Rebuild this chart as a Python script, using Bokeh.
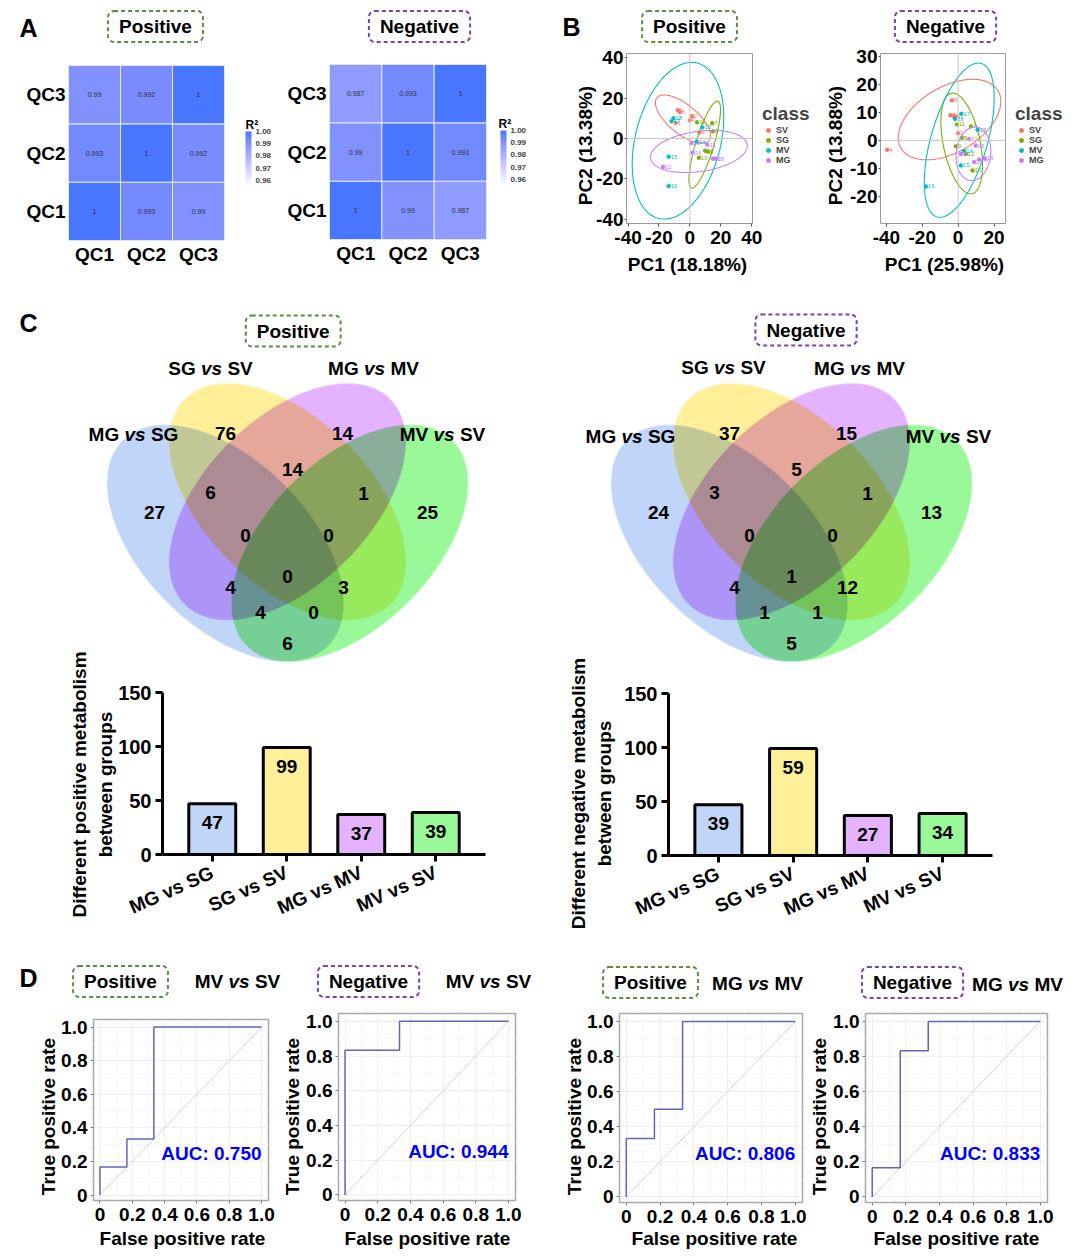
import numpy as np
from bokeh.plotting import figure
from bokeh.models import (Range1d, FactorRange, LinearColorMapper, ColorBar, FixedTicker,
                          PrintfTickFormatter, Label, Legend, LegendItem, Span, ColumnDataSource)
from bokeh.layouts import row, column
from bokeh.embed import file_html
from bokeh.resources import INLINE
from bokeh.core.properties import value

FONT = "Liberation Sans"

# ============================ DATA ============================
qc_names = ["QC1", "QC2", "QC3"]
r2_pos_qc1 = [1.0, 0.993, 0.99]
r2_pos_qc2 = [0.993, 1.0, 0.992]
r2_pos_qc3 = [0.99, 0.992, 1.0]
r2_neg_qc1 = [1.0, 0.99, 0.987]
r2_neg_qc2 = [0.99, 1.0, 0.993]
r2_neg_qc3 = [0.987, 0.993, 1.0]
r2_ticks = [0.96, 0.97, 0.98, 0.99, 1.00]

pca_classes = ["SV", "SG", "MV", "MG"]
pca_sample_id = [1, 2, 3, 4, 5, 6, 7, 8, 9, 10, 11, 12,
                 13, 14, 15, 16, 17, 18, 19, 20, 21, 22, 23, 24]
pca_sample_class = ["SV", "SV", "SV", "SV", "SV", "SV",
                    "SG", "SG", "SG", "SG", "SG", "SG",
                    "MV", "MV", "MV", "MV", "MV", "MV",
                    "MG", "MG", "MG", "MG", "MG", "MG"]
pos_pc1 = [-9.2, 1.2, 6.2, -0.1, -6.5, -7.8, 14.4, 11.6, 14.8, 5.8, 4.7, 9.8,
           8.0, 4.4, -13.7, -13.7, -11.9, -10.6, 16.6, 14.8, 11.2, -17.4, 0.8, 1.7]
pos_pc2 = [7.7, 11, 3, 9, 13, 14, 7.5, -6.5, 3.5, -9.5, 8, -6,
           5.5, -1.5, -9, -23.5, 8.5, 10, -10, -10, -3, -14, -2.3, -7]
neg_pc1 = [0, -4.3, -1.6, -39.6, -3.5, -2.7, 7.1, 2, -1.3, 8, -0.7, 4.3,
           10.8, 3.3, 1.5, -18, 1.8, -1.8, 14.9, 1.5, 6.1, 8.9, 9.8, 11.7]
neg_pc2 = [2.6, 9, 8.5, -3.3, 14.3, 8.7, 5, 1, -2.1, -10.7, 5.7, -4.8,
           3.8, -3.8, -8.9, -16.4, 9.5, 7.7, -6.4, -4.8, 0.4, -7.7, -1.8, -6.8]
# confidence ellipses per class (SV, SG, MV, MG): centre, half-width, half-height, correlation
pos_ell_cx = [-4.5, 9.6, -7.7, 5.8]
pos_ell_cy = [9.6, -3.0, -1.1, -6.4]
pos_ell_halfw = [17.8, 10.2, 29.6, 31.3]
pos_ell_halfh = [11.9, 21.5, 38.7, 10.4]
pos_ell_r = [-0.68, 0.80, 0.30, 0.27]
neg_ell_cx = [-4.8, 2.0, 0.6, 8.5]
neg_ell_cy = [7.45, -1.05, 0.1, -4.75]
neg_ell_halfw = [28.6, 11.6, 19.5, 9.7]
neg_ell_halfh = [14.35, 17.95, 27.5, 9.55]
neg_ell_r = [0.45, -0.43, 0.55, 0.10]
pos_pc_ticks = [-40, -20, 0, 20, 40]
pos_pc_tick_labels = ["-40", "-20", "0", "20", "40"]
neg_pc1_ticks = [-40, -20, 0, 20]
neg_pc1_tick_labels = ["-40", "-20", "0", "20"]
neg_pc2_ticks = [-20, -10, 0, 10, 20, 30]
neg_pc2_tick_labels = ["-20", "-10", "0", "10", "20", "30"]

venn_sets = ["MG vs SG", "SG vs SV", "MG vs MV", "MV vs SV"]
venn_regions = ["A", "B", "C", "D", "AB", "BC", "CD", "ABC", "BCD", "ABCD",
                "AC", "BD", "ACD", "ABD", "AD"]
venn_pos_counts = [27, 76, 14, 25, 6, 14, 1, 0, 0, 0, 4, 3, 4, 0, 6]
venn_neg_counts = [24, 37, 15, 13, 3, 5, 1, 0, 0, 1, 4, 12, 1, 1, 5]

comparisons = ["MG vs SG", "SG vs SV", "MG vs MV", "MV vs SV"]
diff_positive = [47, 99, 37, 39]
diff_negative = [39, 59, 27, 34]
# bar heights as drawn in the negative-mode chart
diff_negative_drawn = [47, 99, 37, 39]
bar_ticks = [0, 50, 100, 150]

roc_pos_mvsv_fpr = [0, 0, 0.1667, 0.1667, 0.3333, 0.3333, 1]
roc_pos_mvsv_tpr = [0, 0.1667, 0.1667, 0.3333, 0.3333, 1, 1]
roc_neg_mvsv_fpr = [0, 0, 0.3333, 0.3333, 1]
roc_neg_mvsv_tpr = [0, 0.8333, 0.8333, 1, 1]
roc_pos_mgmv_fpr = [0, 0, 0.1667, 0.1667, 0.3333, 0.3333, 1]
roc_pos_mgmv_tpr = [0, 0.3333, 0.3333, 0.5, 0.5, 1, 1]
roc_neg_mgmv_fpr = [0, 0, 0.1667, 0.1667, 0.3333, 0.3333, 1]
roc_neg_mgmv_tpr = [0, 0.1667, 0.1667, 0.8333, 0.8333, 1, 1]
roc_auc = [0.750, 0.944, 0.806, 0.833]
roc_ticks = [0, 0.2, 0.4, 0.6, 0.8, 1.0]
roc_tick_labels = ["0", "0.2", "0.4", "0.6", "0.8", "1.0"]
chance_line = [0.0, 1.0]

# ============================ STYLE ============================
W, H = 1076, 1252
GREEN_BOX = "#5E8C3F"
PURPLE_BOX = "#7E3FB5"
CLASS_COLORS = {"SV": "#F8766D", "SG": "#7CAE00", "MV": "#00BFC4", "MG": "#C77CFF"}
VENN_SET_RGB = [(193, 213, 248), (255, 239, 153), (229, 178, 255), (153, 249, 153)]
BAR_COLORS = ["#C1D5F8", "#FFEF99", "#E5B2FF", "#99F999"]


def _lab_palette(c0, c1, n=256):
    M = np.array([[0.4124564, 0.3575761, 0.1804375],
                  [0.2126729, 0.7151522, 0.0721750],
                  [0.0193339, 0.1191920, 0.9503041]])
    Mi = np.linalg.inv(M)
    wn = np.array([0.95047, 1.0, 1.08883])
    eps = 216 / 24389
    kap = 24389 / 27

    def to_lab(h):
        rgb = np.array([int(h[i:i + 2], 16) for i in (1, 3, 5)]) / 255.0
        lin = np.where(rgb <= 0.04045, rgb / 12.92, ((rgb + 0.055) / 1.055) ** 2.4)
        xyz = M @ lin / wn
        f = np.where(xyz > eps, np.cbrt(xyz), (kap * xyz + 16) / 116)
        return np.array([116 * f[1] - 16, 500 * (f[0] - f[1]), 200 * (f[1] - f[2])])

    def to_hex(lab):
        fy = (lab[0] + 16) / 116
        f = np.array([fy + lab[1] / 500, fy, fy - lab[2] / 200])
        xyz = np.where(f ** 3 > eps, f ** 3, (116 * f - 16) / kap) * wn
        lin = np.clip(Mi @ xyz, 0, 1)
        s = np.where(lin <= 0.0031308, 12.92 * lin, 1.055 * lin ** (1 / 2.4) - 0.055)
        v = np.clip(np.round(s * 255), 0, 255).astype(int)
        return "#%02X%02X%02X" % tuple(v)

    a, b = to_lab(c0), to_lab(c1)
    return [to_hex(a + (b - a) * t) for t in np.linspace(0, 1, n)]


R2_MAPPER = LinearColorMapper(palette=_lab_palette("#FFFFFF", "#4876FF"), low=0.955, high=1.0)


def mkfig(canvas, frame, x_range, y_range, **kw):
    cL, cT, cR, cB = canvas
    fL, fT, fR, fB = frame
    return figure(width=cR - cL, height=cB - cT, x_range=x_range, y_range=y_range,
                  min_border_left=fL - cL, min_border_right=cR - fR,
                  min_border_top=fT - cT, min_border_bottom=cB - fB,
                  toolbar_location=None, output_backend="svg", title=None,
                  frame_align=False, **kw)


def style_axis(ax, size="19px"):
    ax.major_label_text_font = FONT
    ax.major_label_text_font_style = "bold"
    ax.major_label_text_font_size = size
    ax.major_label_text_color = "black"
    ax.minor_tick_line_color = None


# ---------------- overlay (page coordinates) for all free texts ----------------
ov = figure(width=W, height=H, x_range=Range1d(0, W), y_range=Range1d(H, 0),
            min_border=0, x_axis_location=None, y_axis_location=None,
            background_fill_color=None, border_fill_color=None, outline_line_color=None,
            toolbar_location=None, output_backend="svg", title=None, frame_align=False)
ov.grid.visible = False


def text_label(X, Y, text, size=19, style="bold", align="center", color="black",
               x_offset=0, angle=0.0):
    ov.add_layout(Label(x=X, y=Y, text=text, x_offset=x_offset, text_align=align,
                        text_baseline="middle", text_font=FONT, text_font_style=style,
                        text_font_size=f"{size}px", text_color=color, angle=angle))


def box_label(X, Y, text, color):
    ov.add_layout(Label(x=X, y=Y, text=text, text_align="center", text_baseline="middle",
                        text_font=FONT, text_font_style="bold", text_font_size="19px",
                        text_color="black", border_line_color=color, border_line_width=2,
                        border_line_dash="4 3", border_radius=6,
                        padding=dict(left=11, right=11, top=5, bottom=5)))


W_BOLD = {"M": 833, "G": 778, "S": 667, "V": 667, " ": 278, "v": 556, "s": 556}


def vs_label(X, Y, name, size=19):
    left, right = name.split(" vs ")

    def tw(s):
        return sum(W_BOLD.get(ch, 600) for ch in s) * size / 1000.0
    total = tw(left) + 2 * tw(" ") + tw("vs") + tw(right)
    start = -total / 2
    text_label(X, Y, left, size=size, align="left", x_offset=start)
    text_label(X, Y, "vs", size=size, style="bold italic", align="left",
               x_offset=start + tw(left) + tw(" "))
    text_label(X, Y, right, size=size, align="left",
               x_offset=start + tw(left) + 2 * tw(" ") + tw("vs"))


# ============================ PANEL A ============================
def heat_fig(canvas, frame, rows):
    p = mkfig(canvas, frame, FactorRange(*qc_names), FactorRange(*qc_names),
              outline_line_color=None)
    xs, ys, vs = [], [], []
    for yname, rv in zip(qc_names, rows):
        for xname, v in zip(qc_names, rv):
            xs.append(xname)
            ys.append(yname)
            vs.append(v)
    src = ColumnDataSource(dict(x=xs, y=ys, v=vs, lab=[f"{v:g}" for v in vs]))
    p.rect(x="x", y="y", width=1, height=1, source=src,
           fill_color={"field": "v", "transform": R2_MAPPER}, line_color="#E4E9FF", line_width=1)
    p.text(x="x", y="y", text="lab", source=src, text_align="center", text_baseline="middle",
           text_font=value(FONT), text_font_size="7px", text_color="#333333")
    p.grid.visible = False
    for ax in p.axis:
        style_axis(ax)
        ax.axis_line_color = None
        ax.major_tick_line_color = None
        ax.major_tick_out = 0
        ax.major_tick_in = 0
        ax.major_label_standoff = 3
    return p


# ============================ PANEL B ============================
def pca_fig(canvas, frame, xr, yr, xticks, xlabels, yticks, ylabels, pc1, pc2, ell):
    p = mkfig(canvas, frame, Range1d(*xr), Range1d(*yr),
              outline_line_color="#9A9A9A", outline_line_width=1)
    p.grid.visible = False
    p.add_layout(Span(location=0, dimension="width", line_color="#C8C8C8", line_width=1))
    p.add_layout(Span(location=0, dimension="height", line_color="#C8C8C8", line_width=1))
    cx, cy, hw, hh, rr = ell
    t = np.linspace(0, 2 * np.pi, 181)
    for k, cls in enumerate(pca_classes):
        col = CLASS_COLORS[cls]
        idx = [i for i, c in enumerate(pca_sample_class) if c == cls]
        src = ColumnDataSource(dict(x=[pc1[i] for i in idx], y=[pc2[i] for i in idx],
                                    lab=[str(pca_sample_id[i]) for i in idx]))
        ex = cx[k] + hw[k] * np.cos(t)
        ey = cy[k] + hh[k] * (rr[k] * np.cos(t) + np.sqrt(1 - rr[k] ** 2) * np.sin(t))
        p.line(ex, ey, line_color=col, line_width=1.1)
        p.scatter(x="x", y="y", source=src, size=3.5, fill_color=col, line_color=col)
        p.text(x="x", y="y", text="lab", source=src, x_offset=2, text_baseline="middle",
               text_font=value(FONT), text_font_size="6px", text_color=col)
    p.xaxis.ticker = FixedTicker(ticks=xticks)
    p.xaxis.major_label_overrides = dict(zip(xticks, xlabels))
    p.yaxis.ticker = FixedTicker(ticks=yticks)
    p.yaxis.major_label_overrides = dict(zip(yticks, ylabels))
    for ax in p.axis:
        style_axis(ax)
        ax.axis_line_color = None
        ax.major_tick_line_color = "#555555"
        ax.major_tick_in = 0
    p.xaxis.major_tick_out = 3
    p.xaxis.major_label_standoff = 4
    p.yaxis.major_tick_out = 2
    p.yaxis.major_label_standoff = 1
    return p


# ============================ PANEL C (Venn) ============================
VENN_S = 415.0
VENN_GEOM = [(0.35, 0.47, 3 * np.pi / 4), (0.5, 0.57, 3 * np.pi / 4),
             (0.5, 0.57, np.pi / 4), (0.65, 0.47, np.pi / 4)]
REGION_UV = {"A": (0.1795, 0.5442), "B": (0.3506, 0.7345), "C": (0.6325, 0.7345),
             "D": (0.8373, 0.5442), "AB": (0.3145, 0.5923), "BC": (0.512, 0.6478),
             "CD": (0.683, 0.590), "ABC": (0.3988, 0.4887), "BCD": (0.5988, 0.4887),
             "ABCD": (0.5, 0.390), "AC": (0.3627, 0.3634), "BD": (0.635, 0.3634),
             "ACD": (0.435, 0.3032), "ABD": (0.5627, 0.3032), "AD": (0.5, 0.2285)}


def venn_image(ss=3):
    u0, u1, v0, v1 = 0.05, 0.95, 0.17, 0.87
    nx = int(round((u1 - u0) * VENN_S))
    ny = int(round((v1 - v0) * VENN_S))
    xs = u0 + (np.arange(nx * ss) + 0.5) / (nx * ss) * (u1 - u0)
    ys = v0 + (np.arange(ny * ss) + 0.5) / (ny * ss) * (v1 - v0)
    X, Y = np.meshgrid(xs, ys)
    rgb = np.ones(X.shape + (3,))
    inside = np.zeros(X.shape, bool)
    for (cx, cy, ang), col in zip(VENN_GEOM, VENN_SET_RGB):
        dx, dy = X - cx, Y - cy
        a = dx * np.cos(ang) + dy * np.sin(ang)
        b = -dx * np.sin(ang) + dy * np.cos(ang)
        m = (a / 0.35) ** 2 + (b / 0.2) ** 2 <= 1
        rgb[m] *= np.array(col) / 255.0
        inside |= m
    al = inside.astype(float)
    prem = (rgb * al[..., None]).reshape(ny, ss, nx, ss, 3).mean(axis=(1, 3))
    alm = al.reshape(ny, ss, nx, ss).mean(axis=(1, 3))
    colr = np.where(alm[..., None] > 0, prem / np.maximum(alm[..., None], 1e-9), 1.0)
    img = np.empty((ny, nx), dtype=np.uint32)
    view = img.view(dtype=np.uint8).reshape((ny, nx, 4))
    view[..., :3] = np.clip(np.round(colr * 255), 0, 255).astype(np.uint8)
    view[..., 3] = np.clip(np.round(alm * 255), 0, 255).astype(np.uint8)
    return img, u0, v0, u1 - u0, v1 - v0


VENN_IMG = venn_image()


def venn_fig(canvas, center_px, counts, set_px):
    cL, cT, cR, cB = canvas

    def U(X):
        return 0.5 + (X - center_px) / VENN_S

    def V(Y):
        return 0.855 - (Y - 383) / VENN_S

    p = mkfig(canvas, canvas, Range1d(U(cL), U(cR)), Range1d(V(cB), V(cT)),
              x_axis_location=None, y_axis_location=None, outline_line_color=None)
    p.grid.visible = False
    img, x0, y0, dw, dh = VENN_IMG
    p.image_rgba(image=[img], x=x0, y=y0, dw=dw, dh=dh)
    p.text(x=[REGION_UV[r][0] for r in venn_regions], y=[REGION_UV[r][1] for r in venn_regions],
           text=[str(c) for c in counts], text_align="center", text_baseline="middle",
           text_font=value(FONT), text_font_style="bold", text_font_size="19px",
           text_color="black")
    for (X, Y), name in zip(set_px, venn_sets):
        vs_label(X, Y, name)
    return p


# ============================ PANEL C (bars) ============================
def bar_fig(canvas, frame, heights, labels):
    p = mkfig(canvas, frame,
              FactorRange(*comparisons, range_padding=0.168, range_padding_units="absolute"),
              Range1d(0, 150), background_fill_color=None, border_fill_color=None,
              outline_line_color=None)
    src = ColumnDataSource(dict(x=comparisons, top=heights, color=BAR_COLORS,
                                lab=[str(v) for v in labels]))
    p.vbar(x="x", top="top", width=0.63, source=src, fill_color="color",
           line_color="black", line_width=3)
    p.text(x="x", y="top", text="lab", source=src, y_offset=19, text_align="center",
           text_baseline="middle", text_font=value(FONT), text_font_style="bold",
           text_font_size="19px", text_color="black")
    p.grid.visible = False
    p.yaxis.ticker = FixedTicker(ticks=bar_ticks)
    for ax in p.axis:
        style_axis(ax)
        ax.axis_line_width = 3
        ax.axis_line_color = "black"
        ax.major_tick_line_width = 3
        ax.major_tick_line_color = "black"
        ax.major_tick_out = 7
        ax.major_tick_in = 0
        ax.major_label_standoff = 4
    p.yaxis.major_label_text_font_size = "20px"
    p.xaxis.major_label_orientation = 0.42
    p.xaxis.major_label_standoff = 10
    return p


# ============================ PANEL D (ROC) ============================
def roc_fig(canvas, frame, fpr, tpr, auc):
    xr = (-0.04, 1.043)
    yr = (-0.032, 1.045)
    p = mkfig(canvas, frame, Range1d(*xr), Range1d(*yr),
              outline_line_color="#A8A8A8", outline_line_width=1.5)
    p.line(chance_line, chance_line, line_color="#D3D3D3", line_width=1)
    p.line(fpr, tpr, line_color="#6464BE", line_width=1.5)
    for ax in p.axis:
        ax.ticker = FixedTicker(ticks=roc_ticks, minor_ticks=[0.1, 0.3, 0.5, 0.7, 0.9])
        ax.major_label_overrides = dict(zip(roc_ticks, roc_tick_labels))
        style_axis(ax)
        ax.axis_line_color = None
        ax.major_tick_line_color = "#7F7F7F"
        ax.major_tick_out = 3
        ax.major_tick_in = 0
    p.xaxis.major_label_standoff = 3
    p.yaxis.major_label_standoff = 2
    p.grid.grid_line_color = "#EFEFEF"
    p.grid.minor_grid_line_color = "#F7F7F7"
    p.add_layout(Label(x=1.0, y=0.25, text=f"AUC: {auc:.3f}", text_align="right",
                       text_baseline="middle", text_font=FONT, text_font_style="bold",
                       text_font_size="19px", text_color="#0000FF"))
    return p


# ============================ ASSEMBLY ============================
a1 = heat_fig((0, 0, 284, 280), (68, 65, 224, 240), [r2_pos_qc1, r2_pos_qc2, r2_pos_qc3])
a2 = heat_fig((284, 0, 556, 280), (328, 64, 486, 239), [r2_neg_qc1, r2_neg_qc2, r2_neg_qc3])
b1 = pca_fig((556, 0, 818, 280), (626, 53, 752, 223), (-41.0, 40.5), (-42.0, 42.0),
             pos_pc_ticks, pos_pc_tick_labels, pos_pc_ticks, pos_pc_tick_labels,
             pos_pc1, pos_pc2,
             (pos_ell_cx, pos_ell_cy, pos_ell_halfw, pos_ell_halfh, pos_ell_r))
b2 = pca_fig((818, 0, 1076, 280), (880, 53, 1005, 223), (-43.3, 26.4), (-29.6, 31.0),
             neg_pc1_ticks, neg_pc1_tick_labels, neg_pc2_ticks, neg_pc2_tick_labels,
             neg_pc1, neg_pc2,
             (neg_ell_cx, neg_ell_cy, neg_ell_halfw, neg_ell_halfh, neg_ell_r))
v1 = venn_fig((0, 280, 540, 672), 287, venn_pos_counts,
              [(133, 434), (210, 368), (373, 368), (442, 434)])
v2 = venn_fig((540, 280, 1076, 672), 791, venn_neg_counts,
              [(630, 436), (723, 367), (859, 368), (948, 436)])
c1 = bar_fig((0, 640, 540, 950), (162, 692, 485, 854), diff_positive, diff_positive)
c2 = bar_fig((540, 640, 1076, 950), (668, 693, 992, 855), diff_negative_drawn, diff_negative)
d1 = roc_fig((0, 950, 279, H), (93, 1019, 268, 1200), roc_pos_mvsv_fpr, roc_pos_mvsv_tpr, roc_auc[0])
d2 = roc_fig((279, 950, 560, H), (338, 1013, 515, 1200), roc_neg_mvsv_fpr, roc_neg_mvsv_tpr, roc_auc[1])
d3 = roc_fig((560, 950, 806, H), (619, 1013, 802, 1202), roc_pos_mgmv_fpr, roc_pos_mgmv_tpr, roc_auc[2])
d4 = roc_fig((806, 950, 1076, H), (865, 1013, 1047, 1202), roc_neg_mgmv_fpr, roc_neg_mgmv_tpr, roc_auc[3])

# ---------------- overlay texts ----------------
for letter, X, Y in [("A", 28, 27), ("B", 571, 26), ("C", 28, 322), ("D", 28, 977)]:
    text_label(X, Y, letter, size=25)
for X, Y, txt, col in [(155, 26, "Positive", GREEN_BOX), (419, 26, "Negative", PURPLE_BOX),
                       (689, 26, "Positive", GREEN_BOX), (945, 26, "Negative", PURPLE_BOX),
                       (292.7, 330.5, "Positive", GREEN_BOX), (805.5, 329.5, "Negative", PURPLE_BOX),
                       (120, 981, "Positive", GREEN_BOX), (368, 981, "Negative", PURPLE_BOX),
                       (650, 982, "Positive", GREEN_BOX), (912, 982, "Negative", PURPLE_BOX)]:
    box_label(X, Y, txt, col)
for X, Y, name in [(237, 981, "MV vs SV"), (488, 981, "MV vs SV"),
                   (757, 983, "MG vs MV"), (1017, 984, "MG vs MV")]:
    vs_label(X, Y, name)

# colour bars for R^2
for X, bottom in [(245, 186), (500, 185)]:
    ov.add_layout(ColorBar(color_mapper=R2_MAPPER, location=(X, H - bottom), width=6, height=55,
                           ticker=FixedTicker(ticks=r2_ticks),
                           formatter=PrintfTickFormatter(format="%.2f"),
                           major_label_text_font=FONT, major_label_text_font_size="8px",
                           major_label_text_font_style="bold", major_tick_line_color=None,
                           bar_line_color=None, label_standoff=4, padding=0, margin=0,
                           background_fill_color=None, border_line_color=None))
text_label(245, 124, "R²", size=12, align="left")
text_label(498, 123, "R²", size=12, align="left")

# PCA legends (legend proxies placed off-canvas, only their keys are shown)
leg_r = [ov.scatter(x=[-100], y=[-100], size=4, fill_color=CLASS_COLORS[c],
                    line_color=CLASS_COLORS[c]) for c in pca_classes]
for X, top in [(762, 103), (1015, 103)]:
    ov.add_layout(Legend(items=[LegendItem(label=c, renderers=[r]) for c, r in zip(pca_classes, leg_r)],
                         title="class", location=(X, H - (top + 62)),
                         title_text_font=FONT, title_text_font_size="19px",
                         title_text_font_style="bold", title_standoff=0,
                         label_text_font=FONT, label_text_font_size="9px",
                         label_text_font_style="bold", label_height=10, glyph_height=10,
                         glyph_width=12, label_standoff=2, spacing=0, padding=0, margin=0,
                         border_line_color=None, background_fill_alpha=0))

# axis titles
RIGHT = np.pi / 2
text_label(687, 264, "PC1 (18.18%)")
text_label(585, 145, "PC2 (13.38%)", angle=RIGHT)
text_label(944, 264, "PC1 (25.98%)")
text_label(835, 145, "PC2 (13.88%)", angle=RIGHT)
text_label(92, 784, "Different positive metabolism\nbetween groups", angle=RIGHT)
text_label(591, 793, "Different negative metabolism\nbetween groups", angle=RIGHT)
for X in (48, 292, 574, 819):
    text_label(X, 1116, "True positive rate", angle=RIGHT)
for X in (182, 427, 714, 956):
    text_label(X, 1238, "False positive rate")

ov.margin = (-H, 0, 0, 0)

page = column(row(a1, a2, b1, b2), row(v1, v2), row(c1, c2, margin=(-32, 0, 0, 0)),
              row(d1, d2, d3, d4), ov)

open("out.html", "w").write(file_html(page, INLINE))
